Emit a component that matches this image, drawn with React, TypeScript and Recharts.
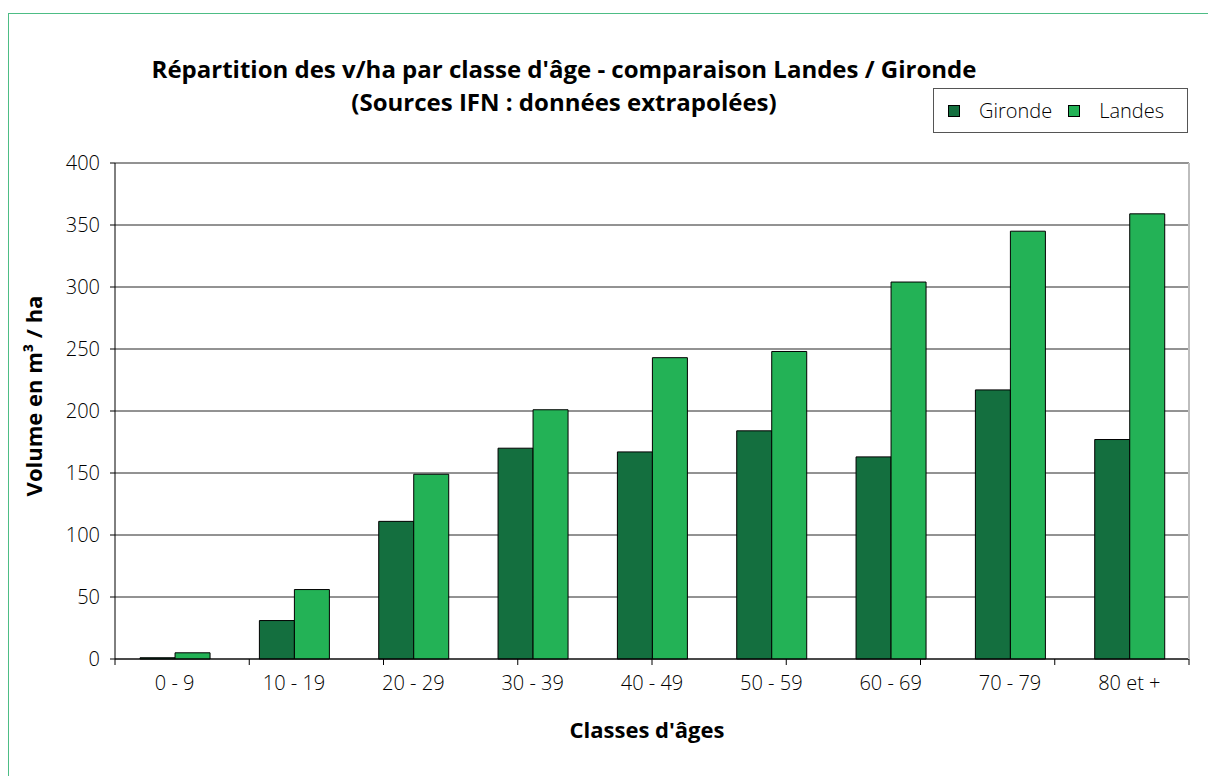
import React from "react";
import {
  BarChart,
  Bar,
  XAxis,
  YAxis,
  CartesianGrid,
} from "recharts";

const CLASSES = ["0 - 9", "10 - 19", "20 - 29", "30 - 39", "40 - 49", "50 - 59", "60 - 69", "70 - 79", "80 et +"];
const GIRONDE = [1, 31, 111, 170, 167, 184, 163, 217, 177];
const LANDES = [5, 56, 149, 201, 243, 248, 304, 345, 359];
const Y_TICKS = [0, 50, 100, 150, 200, 250, 300, 350, 400];
const BOUNDS = [0, 1, 2, 3, 4, 5, 6, 7, 8, 9];

const SERIES = [
  { key: "gironde", name: "Gironde", color: "#146F3F" },
  { key: "landes", name: "Landes", color: "#23B256" },
];

const FONT = "'Open Sans', 'Noto Sans', sans-serif";

const data = CLASSES.map((c, i) => ({ classe: c, gironde: GIRONDE[i], landes: LANDES[i] }));

const Empty = () => <g />;

export default function App() {
  return (
    <div
      style={{
        position: "absolute",
        top: 0,
        left: 0,
        width: 1208,
        height: 776,
        background: "#fff",
        fontFamily: FONT,
        overflow: "hidden",
      }}
    >
      {/* frame */}
      <div
        style={{
          position: "absolute",
          top: 13,
          left: 8,
          width: 1200,
          height: 763,
          borderTop: "1.5px solid #4dbd85",
          borderLeft: "1.5px solid #4dbd85",
        }}
      />

      {/* title */}
      <div
        style={{
          position: "absolute",
          top: 52,
          left: 0,
          width: 1128,
          textAlign: "center",
          fontWeight: 700,
          fontSize: 24,
          lineHeight: "33px",
          color: "#000",
        }}
      >
        Répartition des v/ha par classe d'âge - comparaison Landes / Gironde
        <br />
        (Sources IFN : données extrapolées)
      </div>

      {/* legend */}
      <div
        style={{
          position: "absolute",
          top: 88,
          left: 933,
          width: 253,
          height: 43,
          border: "1px solid #555",
          display: "flex",
          alignItems: "center",
          boxSizing: "content-box",
        }}
      >
        {SERIES.map((s, i) => (
          <div key={s.key} style={{ display: "flex", alignItems: "center", marginLeft: i === 0 ? 14 : 16 }}>
            <span
              style={{
                display: "inline-block",
                width: 10,
                height: 10,
                background: s.color,
                border: "1px solid #000",
                marginRight: 19,
              }}
            />
            <span style={{ fontSize: 20, fontWeight: 300, color: "#000" }}>{s.name}</span>
          </div>
        ))}
      </div>

      {/* y axis title */}
      <div
        style={{
          position: "absolute",
          left: 33,
          top: 396,
          transform: "translate(-50%, -50%) rotate(-90deg)",
          whiteSpace: "nowrap",
          fontWeight: 700,
          fontSize: 22,
          color: "#000",
        }}
      >
        Volume en m³ / ha
      </div>

      {/* x axis title */}
      <div
        style={{
          position: "absolute",
          left: 647,
          top: 729,
          transform: "translate(-50%, -50%)",
          whiteSpace: "nowrap",
          fontWeight: 700,
          fontSize: 22,
          color: "#000",
        }}
      >
        Classes d'âges
      </div>

      <div style={{ position: "absolute", top: 0, left: 0 }}>
        <BarChart
          width={1208}
          height={776}
          data={data}
          margin={{ top: 163, right: 18, bottom: 77, left: 15 }}
          barCategoryGap="21%"
          barGap={0}
        >
          <CartesianGrid xAxisId="cat" yAxisId="l" vertical={false} stroke="#000" strokeOpacity={0.85} />
          <XAxis
            xAxisId="bounds"
            type="number"
            domain={[0, 9]}
            ticks={BOUNDS}
            interval={0}
            height={1}
            axisLine={{ stroke: "#000" }}
            tickLine={{ stroke: "#000" }}
            tickSize={6}
            tick={<Empty />}
            allowDataOverflow
          />
          <XAxis
            xAxisId="cat"
            dataKey="classe"
            height={39}
            axisLine={false}
            tickLine={false}
            tickSize={0}
            tickMargin={16}
            interval={0}
            tick={{ fill: "#000", fontSize: 20, fontWeight: 300, fontFamily: FONT }}
          />
          <YAxis
            yAxisId="l"
            width={100}
            domain={[0, 400]}
            ticks={Y_TICKS}
            interval={0}
            axisLine={{ stroke: "#000" }}
            tickLine={{ stroke: "#000" }}
            tickSize={5}
            tickMargin={10}
            tick={{ fill: "#000", fontSize: 20, fontWeight: 300, fontFamily: FONT }}
          />
          <YAxis
            yAxisId="r"
            orientation="right"
            width={1}
            domain={[0, 400]}
            axisLine={{ stroke: "#bdbdbd", strokeWidth: 2 }}
            tickLine={false}
            tick={false}
          />
          {SERIES.map((s) => (
            <Bar
              key={s.key}
              dataKey={s.key}
              name={s.name}
              xAxisId="cat"
              yAxisId="l"
              fill={s.color}
              stroke="#000"
              strokeWidth={1}
              isAnimationActive={false}
            />
          ))}
        </BarChart>
      </div>
    </div>
  );
}
